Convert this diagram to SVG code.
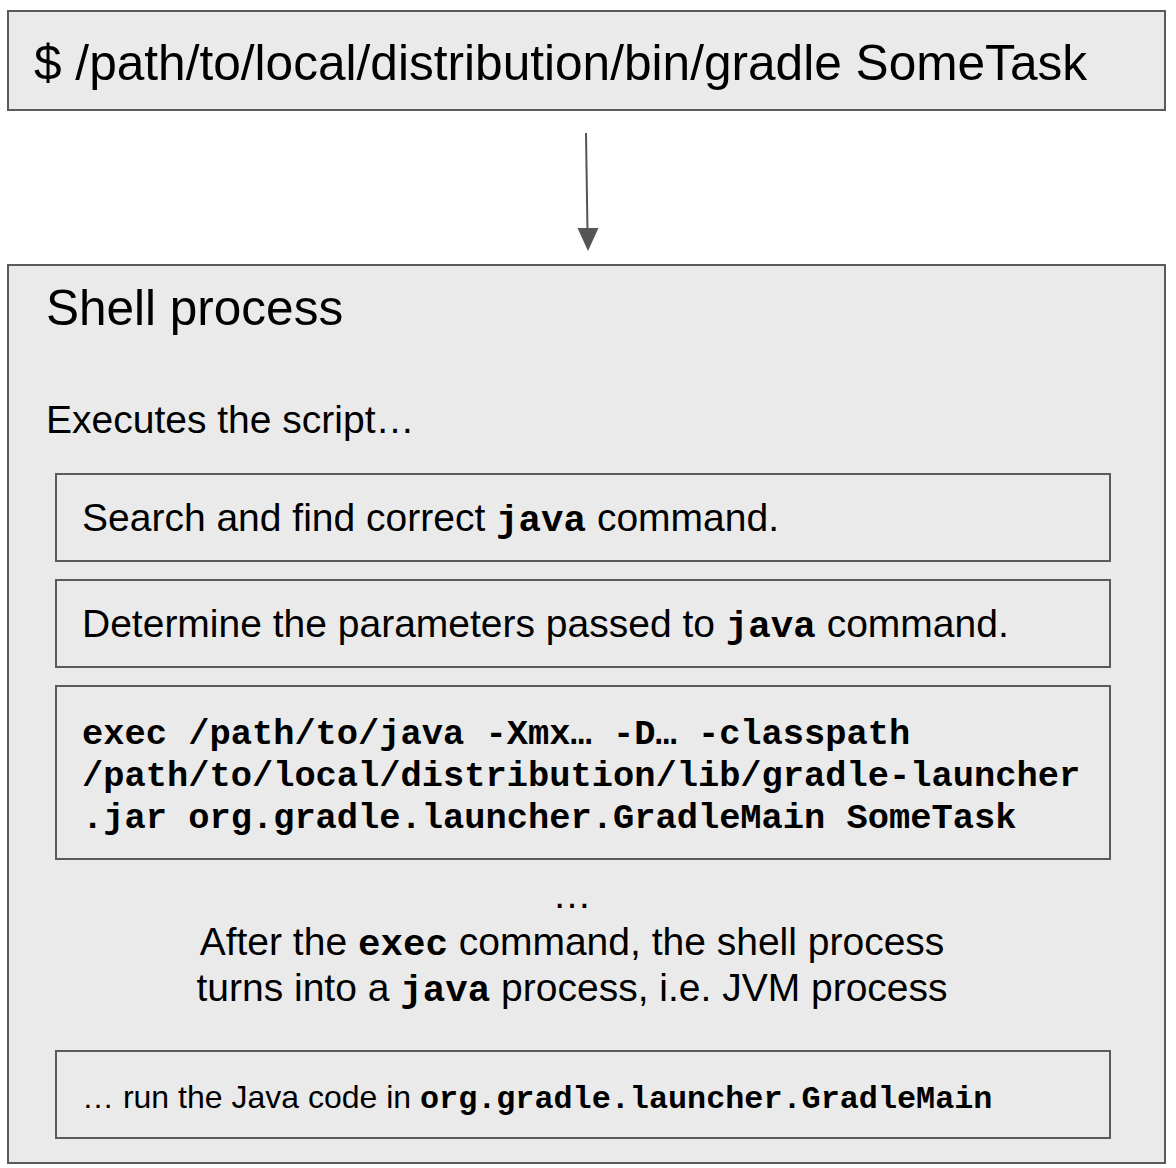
<svg xmlns="http://www.w3.org/2000/svg" width="1176" height="1168" viewBox="0 0 1176 1168">
<style>
.box{fill:#eaeaea;stroke:#5a5a5a;stroke-width:2}
.sans{font-family:"Liberation Sans",Arial,sans-serif;fill:#000}
.mono{font-family:"Courier New","Nimbus Mono PS","FreeMono","Liberation Mono",monospace;font-weight:bold;fill:#000}
.conn{stroke:#555;stroke-width:2;fill:none}
</style>
<rect width="1176" height="1168" fill="#fff"/>
<g id="cmd">
<rect class="box" x="8" y="11" width="1157" height="99"/>
<text class="sans" x="34" y="80" font-size="49.6">$ /path/to/local/distribution/bin/gradle SomeTask</text>
</g>
<g id="connectors">
<line class="conn" x1="586" y1="133" x2="587.5" y2="232"/>
<path d="M577.5,228 L598.5,228 L588,251 Z" fill="#555"/>
</g>
<g id="shell">
<rect class="box" x="8" y="265" width="1157" height="898"/>
<text class="sans" x="46" y="325" font-size="49.5">Shell process</text>
<text class="sans" x="46" y="433" font-size="39">Executes the script…</text>
</g>
<g id="search">
<rect class="box" x="56" y="474" width="1054" height="87"/>
<text class="sans" x="82" y="531" font-size="39">Search and find correct <tspan class="mono" font-size="37.5">java</tspan> command.</text>
</g>
<g id="determine">
<rect class="box" x="56" y="580" width="1054" height="87"/>
<text class="sans" x="82" y="637" font-size="39">Determine the parameters passed to <tspan class="mono" font-size="37.5">java</tspan> command.</text>
</g>
<g id="exec">
<rect class="box" x="56" y="686" width="1054" height="173"/>
<text class="mono" x="82" y="744" font-size="35.4">exec /path/to/java -Xmx… -D… -classpath</text>
<text class="mono" x="82" y="786" font-size="35.4">/path/to/local/distribution/lib/gradle-launcher</text>
<text class="mono" x="82" y="828" font-size="35.4">.jar org.gradle.launcher.GradleMain SomeTask</text>
</g>
<g id="note">
<text class="sans" x="572" y="908" font-size="39" text-anchor="middle">…</text>
<text class="sans" x="572" y="955" font-size="39" text-anchor="middle">After the <tspan class="mono" font-size="37.5">exec</tspan> command, the shell process</text>
<text class="sans" x="572" y="1001" font-size="39" text-anchor="middle">turns into a <tspan class="mono" font-size="37.5">java</tspan> process, i.e. JVM process</text>
</g>
<g id="run">
<rect class="box" x="56" y="1051" width="1054" height="87"/>
<text class="sans" x="82" y="1108" font-size="32">… run the Java code in <tspan class="mono" font-size="31.8">org.gradle.launcher.GradleMain</tspan></text>
</g>
</svg>
